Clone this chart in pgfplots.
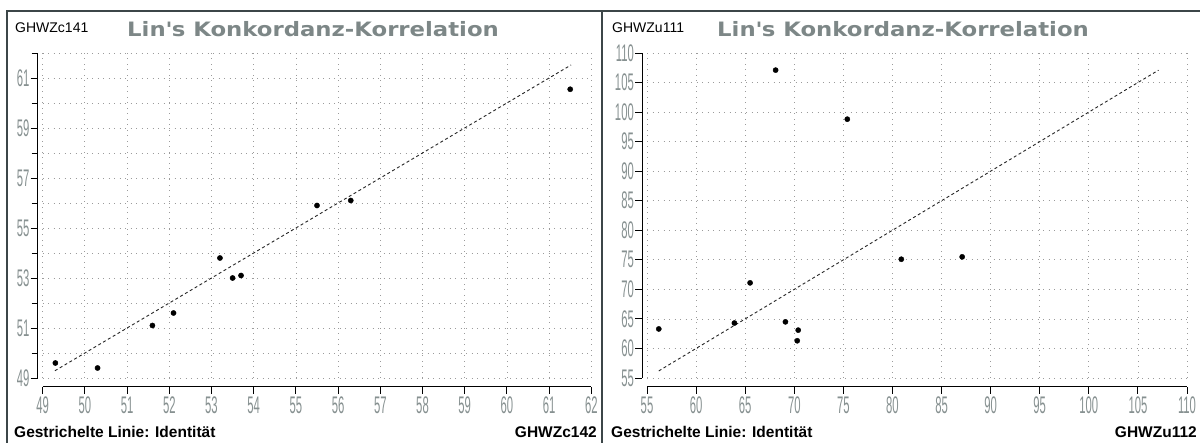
\documentclass[border=0pt]{standalone}
\usepackage{pgfplots}
\pgfplotsset{compat=1.18}
\usepackage{fontspec}
\setmainfont{Liberation Sans}
\newfontfamily\tickfont[FakeStretch=0.47]{Liberation Sans}
\newfontfamily\titlefont[FakeStretch=1.15]{DejaVu Sans}
\definecolor{tickgray}{RGB}{135,145,145}
\definecolor{titlegray}{RGB}{125,135,135}
\definecolor{framec}{RGB}{60,70,72}
\definecolor{gridc}{RGB}{155,155,155}
\pgfplotsset{
 myaxis/.style={
  scale only axis,
  axis lines=left,
  axis line style={-, black, line width=1pt},
  axis x line shift=9pt,
  axis y line shift=5pt,
  tick align=outside,
  major tick length=7pt,
  minor tick length=6pt,
  tick style={black, line width=0.9pt},
  ticklabel style={font=\fontsize{24}{24}\tickfont, text=tickgray, inner sep=1pt},
  xticklabel style={yshift=-2pt},
  /pgf/number format/assume math mode=true,
  grid style={gridc, line width=0.8pt, dash pattern=on 0.9pt off 4.6pt},
  clip=false,
 }
}
\begin{document}
\begin{tikzpicture}
\path[use as bounding box] (0pt,0pt) rectangle (1200pt,-443pt);
\fill[white] (0pt,0pt) rectangle (1200pt,-443pt);
\draw[framec, line width=1.5pt] (7pt,-443pt) -- (7pt,-11pt) -- (1200pt,-11pt);
\draw[framec, line width=2.5pt] (602pt,-11pt) -- (602pt,-443pt);

\begin{axis}[myaxis, at={(42.7pt,-378pt)}, anchor=south west,
  width=548.6pt, height=325pt,
  xmin=49, xmax=62, ymin=49, ymax=62,
  xtick={49,50,...,62}, ytick={49,51,...,61}, minor ytick={50,52,...,62},
  grid=both]
\addplot[black!85, line width=0.9pt, dash pattern=on 3pt off 2.6pt] coordinates {(49.29,49.29) (61.52,61.52)};
\addplot[only marks, mark=*, mark size=2.6pt, black] coordinates {
(49.3,49.6) (50.3,49.4) (51.6,51.1) (52.1,51.6) (53.2,53.8)
(53.5,53.0) (53.7,53.1) (55.5,55.9) (56.3,56.1) (61.5,60.55)};
\end{axis}

\begin{axis}[myaxis, at={(647pt,-378pt)}, anchor=south west,
  width=540pt, height=325pt,
  xmin=55, xmax=110, ymin=55, ymax=110,
  xtick={55,60,...,110}, ytick={55,60,...,110},
  grid=major]
\addplot[black!85, line width=0.9pt, dash pattern=on 3pt off 2.6pt] coordinates {(56.2,56.2) (107.1,107.1)};
\addplot[only marks, mark=*, mark size=2.6pt, black] coordinates {
(56.2,63.3) (63.9,64.3) (65.5,71.1) (68.1,107.1) (69.1,64.5)
(70.4,63.1) (70.3,61.3) (75.4,98.8) (80.9,75.1) (87.1,75.5)};
\end{axis}

\node[anchor=west, inner sep=0pt, font=\fontsize{14}{14}\selectfont] at (15pt,-28pt) {GHWZc141};
\node[anchor=west, inner sep=0pt, font=\fontsize{19.8}{19.8}\titlefont\bfseries, text=titlegray] at (127pt,-29pt) {Lin\textquotesingle s Konkordanz-Korrelation};
\node[anchor=west, inner sep=0pt, font=\fontsize{14}{14}\selectfont] at (612pt,-28pt) {GHWZu111};
\node[anchor=west, inner sep=0pt, font=\fontsize{19.8}{19.8}\titlefont\bfseries, text=titlegray] at (717pt,-29pt) {Lin\textquotesingle s Konkordanz-Korrelation};

\node[anchor=west, inner sep=0pt, font=\fontsize{15.5}{15.5}\selectfont\bfseries] at (14pt,-432pt) {Gestrichelte Linie: Identität};
\node[anchor=east, inner sep=0pt, font=\fontsize{15.5}{15.5}\selectfont\bfseries] at (597pt,-432pt) {GHWZc142};
\node[anchor=west, inner sep=0pt, font=\fontsize{15.5}{15.5}\selectfont\bfseries] at (611pt,-432pt) {Gestrichelte Linie: Identität};
\node[anchor=east, inner sep=0pt, font=\fontsize{15.5}{15.5}\selectfont\bfseries] at (1197pt,-432pt) {GHWZu112};
\end{tikzpicture}
\end{document}
